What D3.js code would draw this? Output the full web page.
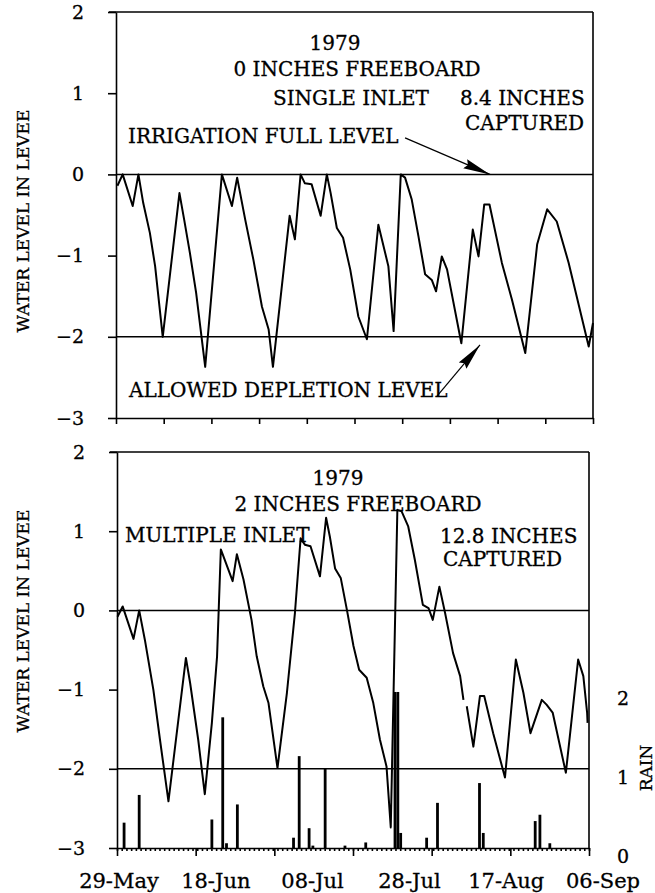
<!DOCTYPE html>
<html>
<head>
<meta charset="utf-8">
<script src="https://cdnjs.cloudflare.com/ajax/libs/d3/7.8.5/d3.min.js"></script>
<style>
  body { margin: 0; background: #fff; }
  svg text { font-family: "DejaVu Serif", serif; fill: #000; stroke: #000; stroke-width: 0.3px; }
  .level { fill: none; stroke: #000; stroke-width: 2; stroke-linejoin: round; }
  .ref { stroke: #000; stroke-width: 1.5; }
  .border { stroke: #000; stroke-width: 1.6; }
  .axis .domain, .axis .tick line { stroke: #000; stroke-width: 1.6; }
  .axis text { font-family: "DejaVu Serif", serif; font-size: 19px; }
  .rain { fill: #000; }
</style>
</head>
<body>
<svg class="chart" width="655" height="893"></svg>
<script>
// days after 29-May-1979 and water level in the levee (inches), single inlet, 0" freeboard
var topDays  = [0.3, 1.4, 3.5, 4.7, 5.7, 7.1, 8.2, 9.8, 13.3, 14.3, 15.5, 16.8, 18.7, 22.2, 24.3, 25.4, 27.1, 28.8, 30.6, 32.0,
                32.9, 36.4, 37.5, 38.7, 39.6, 41.0, 42.9, 44.2, 45.0, 46.3, 47.6, 49.1, 50.8, 52.6, 55.0, 57.1, 58.2, 59.7, 60.6, 62.0,
                63.4, 64.8, 66.2, 67.1, 68.3, 69.4, 72.4, 74.8, 76.0, 77.2, 78.3, 80.9, 83.0, 85.8, 88.3, 90.4, 92.4, 94.9, 99.1, 100];
var topLevel = [-0.14, 0.0, -0.39, 0.0, -0.35, -0.72, -1.13, -2.0, -0.23, -0.56, -0.97, -1.46, -2.37, 0.0, -0.39, -0.04, -0.56, -1.05, -1.63, -1.91,
                -2.37, -0.51, -0.80, 0.0, -0.11, -0.12, -0.51, 0.0, -0.23, -0.66, -0.78, -1.17, -1.75, -2.03, -0.62, -1.13, -1.93, 0.0, -0.04, -0.31,
                -0.76, -1.23, -1.30, -1.44, -1.01, -1.17, -2.08, -0.68, -1.01, -0.37, -0.37, -1.09, -1.54, -2.20, -0.86, -0.43, -0.58, -1.09, -2.12, -1.83];

// multiple inlet, 2" freeboard (null = break in the plotted line)
var bottomDays  = [0.1, 1.2, 3.5, 4.7, 5.9, 7.7, 9.1, 10.9, 14.6, 15.5, 17.2, 18.6, 20.1, 21.2, 22.0, 24.5, 25.4, 26.8, 28.5, 29.6,
                   31.0, 32.1, 34.0, 36.0, 37.7, 38.9, 39.8, 41.0, 43.0, 44.3, 45.1, 46.2, 47.4, 48.7, 50.1, 51.3, 52.9, 54.3, 55.7, 57.1,
                   58.0, 59.4, 60.3, 61.7, 63.1, 64.8, 66.0, 66.9, 68.3, 69.5, 71.2, 72.7, 73.4, 73.7, 74.1, 75.5, 76.9, 77.8, 79.7, 82.2,
                   84.5, 86.1, 87.6, 90.0, 91.0, 92.3, 95.1, 97.7, 98.8, 99.6, 99.7];
var bottomLevel = [-0.08, 0.05, -0.36, 0.0, -0.37, -1.0, -1.63, -2.41, -0.60, -0.92, -1.63, -2.32, -1.42, -0.58, 0.77, 0.37, 0.71, 0.39, -0.12, -0.58,
                   -0.96, -1.17, -1.99, -1.04, -0.03, 0.91, 0.83, 0.81, 0.43, 1.17, 0.93, 0.53, 0.41, 0.01, -0.45, -0.75, -0.85, -1.17, -1.63, -1.97,
                   -2.74, 1.27, 1.25, 1.06, 0.64, 0.07, 0.03, -0.12, 0.30, -0.03, -0.54, -0.83, -1.13, null, -1.21, -1.72, -1.08, -1.08, -1.55, -2.11,
                   -0.62, -1.04, -1.55, -1.13, -1.19, -1.29, -2.05, -0.62, -0.83, -1.29, -1.42];

// daily rain (inches), right axis of the lower plot
var rainDays   = [1.5, 4.7, 20.1, 22.4, 23.2, 25.5, 37.4, 38.6, 40.7, 41.5, 44.1, 48.3, 52.7, 58.9, 59.5, 60.1, 65.6, 67.9, 76.8, 77.6, 88.6, 89.6, 91.7];
var rainInches = [0.32, 0.67, 0.36, 1.65, 0.06, 0.55, 0.13, 1.16, 0.25, 0.03, 1.01, 0.03, 0.07, 1.97, 1.97, 0.19, 0.13, 0.57, 0.82, 0.19, 0.34, 0.42, 0.06];

var dateLabels = ["29-May", "18-Jun", "08-Jul", "28-Jul", "17-Aug", "06-Sep"];
var levelTicks = [-3, -2, -1, 0, 1, 2];
var rainTicks = [0, 1, 2];

var svg = d3.select("svg.chart");

// arrow head
svg.append("defs").append("marker")
    .attr("id", "head")
    .attr("markerUnits", "userSpaceOnUse")
    .attr("markerWidth", 28).attr("markerHeight", 12)
    .attr("refX", 27).attr("refY", 6)
    .attr("orient", "auto")
  .append("path")
    .attr("d", "M0,1 L27,6 L0,11 L3,6 Z");

// draws one water level panel, returns its scales
function panel(opt) {
  var x = d3.scaleLinear().domain([0, 100]).range([opt.left, opt.right]);
  var y = d3.scaleLinear().domain([-3, 2]).range([opt.bottom, opt.top]);
  var g = svg.append("g");

  // frame: top and right edges
  g.append("line").attr("class", "border")
    .attr("x1", opt.left - 7).attr("x2", opt.right).attr("y1", y(2)).attr("y2", y(2));
  g.append("line").attr("class", "border")
    .attr("x1", opt.right).attr("x2", opt.right).attr("y1", y(2)).attr("y2", y(-3));

  // full level and allowed depletion lines
  g.selectAll("line.ref")
    .data([0, -2]).enter().append("line")
      .attr("class", "ref")
      .attr("x1", opt.left).attr("x2", opt.right)
      .attr("y1", function(d) { return y(d); })
      .attr("y2", function(d) { return y(d); });

  g.append("g")
      .attr("class", "axis")
      .attr("transform", "translate(" + opt.left + ",0)")
      .call(d3.axisLeft(y).tickValues(levelTicks).tickSize(8).tickSizeOuter(0)
              .tickPadding(24).tickFormat(d3.format("d")));

  // y axis title
  g.append("text")
      .attr("transform", "translate(29," + opt.titleY + ") rotate(-90)")
      .attr("text-anchor", "middle")
      .style("font-size", "17px")
      .text("WATER LEVEL IN LEVEE");

  var line = d3.line()
      .defined(function(d) { return d[1] !== null; })
      .x(function(d) { return x(d[0]); })
      .y(function(d) { return y(d[1]); });

  g.append("path")
      .datum(d3.zip(opt.days, opt.level))
      .attr("class", "level")
      .attr("d", line);

  return {x: x, y: y, g: g};
}

// ---- upper plot
var p1 = panel({left: 116, right: 593, top: 12, bottom: 418, titleY: 221, days: topDays, level: topLevel});

p1.g.append("g")
    .attr("class", "axis")
    .attr("transform", "translate(0," + p1.y(-3) + ")")
    .call(d3.axisBottom(p1.x).tickValues(d3.range(0, 101, 10)).tickSize(6).tickSizeOuter(0).tickFormat(""));

p1.g.append("text").attr("x", 335).attr("y", 50).attr("text-anchor", "middle").style("font-size", "20px").text("1979");
p1.g.append("text").attr("x", 357).attr("y", 76).attr("text-anchor", "middle").style("font-size", "20px").text("0 INCHES FREEBOARD");
p1.g.append("text").attr("x", 273).attr("y", 105).style("font-size", "20px").text("SINGLE INLET");
p1.g.append("text").attr("x", 460).attr("y", 105).style("font-size", "20px").text("8.4 INCHES");
p1.g.append("text").attr("x", 465).attr("y", 130).style("font-size", "20px").text("CAPTURED");
p1.g.append("text").attr("x", 128).attr("y", 143).style("font-size", "20px").text("IRRIGATION FULL LEVEL");
p1.g.append("text").attr("x", 129).attr("y", 397).style("font-size", "20px").text("ALLOWED DEPLETION LEVEL");

p1.g.append("line")
    .attr("x1", p1.x(60.6)).attr("y1", p1.y(0.45))
    .attr("x2", p1.x(78.4)).attr("y2", p1.y(0))
    .attr("stroke", "#000").attr("stroke-width", 1.2)
    .attr("marker-end", "url(#head)");
p1.g.append("line")
    .attr("x1", p1.x(67.3)).attr("y1", p1.y(-2.73))
    .attr("x2", p1.x(76.3)).attr("y2", p1.y(-2.1))
    .attr("stroke", "#000").attr("stroke-width", 1.2)
    .attr("marker-end", "url(#head)");

// ---- lower plot
var p2 = panel({left: 117, right: 589, top: 452, bottom: 848, titleY: 621, days: bottomDays, level: bottomLevel});

// rain shares the lower plot, 1 inch per grid unit from the bottom
var yRain = d3.scaleLinear().domain([0, 5]).range([848, 452]);

p2.g.selectAll("rect.rain")
    .data(d3.zip(rainDays, rainInches))
  .enter().append("rect")
    .attr("class", "rain")
    .attr("x", function(d) { return p2.x(d[0]) - 1.4; })
    .attr("width", 2.8)
    .attr("y", function(d) { return yRain(d[1]); })
    .attr("height", function(d) { return yRain(0) - yRain(d[1]); });

// day ticks and longer division ticks
p2.g.append("g")
    .attr("class", "axis")
    .attr("transform", "translate(0," + p2.y(-3) + ")")
    .call(d3.axisBottom(p2.x).tickValues(d3.range(0, 101)).tickSize(3).tickSizeOuter(0).tickFormat(""));
p2.g.append("g")
    .attr("class", "axis")
    .attr("transform", "translate(0," + p2.y(-3) + ")")
    .call(d3.axisBottom(p2.x).tickValues(d3.range(0, 101, 100 / 6)).tickSize(8).tickSizeOuter(0).tickFormat(""))
    .select(".domain").remove();

var xLab = d3.scalePoint().domain(dateLabels).range([119, 603]);
p2.g.selectAll("text.date")
    .data(dateLabels).enter().append("text")
      .attr("class", "date")
      .attr("x", function(d) { return xLab(d); })
      .attr("y", 888)
      .attr("text-anchor", "middle")
      .style("font-size", "21px")
      .text(function(d) { return d; });

p2.g.selectAll("text.rtick")
    .data(rainTicks).enter().append("text")
      .attr("class", "rtick")
      .attr("x", 617)
      .attr("y", function(d) { return yRain(d) + 15; })
      .style("font-size", "19px")
      .text(function(d) { return d; });
p2.g.append("text")
    .attr("transform", "translate(652,768) rotate(-90)")
    .attr("text-anchor", "middle")
    .style("font-size", "17px")
    .text("RAIN");

p2.g.append("text").attr("x", 338).attr("y", 485).attr("text-anchor", "middle").style("font-size", "20px").text("1979");
p2.g.append("text").attr("x", 358).attr("y", 511).attr("text-anchor", "middle").style("font-size", "20px").text("2 INCHES FREEBOARD");
p2.g.append("text").attr("x", 125).attr("y", 542).style("font-size", "20px").text("MULTIPLE INLET");
p2.g.append("text").attr("x", 440).attr("y", 543).style("font-size", "20px").text("12.8 INCHES");
p2.g.append("text").attr("x", 443).attr("y", 566).style("font-size", "20px").text("CAPTURED");
</script>
</body>
</html>
